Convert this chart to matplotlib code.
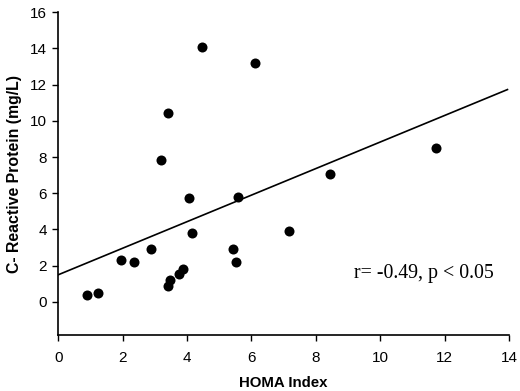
import matplotlib
matplotlib.use("Agg")
import matplotlib.pyplot as plt
import numpy as np

# %% Data

homa = [0.88, 1.23, 1.95, 2.34, 2.88, 3.40, 3.48, 3.76, 3.86, 4.06, 4.15,
        5.43, 5.51, 5.58, 4.46, 6.10, 3.40, 3.20, 7.16, 8.45, 11.72]
crp = [0.40, 0.51, 2.32, 2.22, 2.92, 0.90, 1.21, 1.53, 1.82, 5.72, 3.82,
       2.92, 2.22, 5.81, 14.09, 13.19, 10.44, 7.83, 3.93, 7.05, 8.48]

fit_x = [0.0, 13.95]
fit_intercept = 1.5
fit_slope = 0.733

xticks = [0, 2, 4, 6, 8, 10, 12, 14]
yticks = [0, 2, 4, 6, 8, 10, 12, 14, 16]

# %% Plot

plt.rcParams["font.family"] = ["Liberation Sans", "DejaVu Sans"]

fig = plt.figure(figsize=(5.2, 3.91), dpi=100)
ax = fig.add_axes([0.112, 0.1425, 0.867, 0.8265])

ax.scatter(homa, crp, s=52, color="black", zorder=3, linewidths=0)

fx = np.array(fit_x)
ax.plot(fx, fit_intercept + fit_slope * fx, color="black", lw=1.2)

ax.text(
    11.35, 1.55, "r= -0.49, p < 0.05",
    family=["Liberation Serif", "DejaVu Serif"],
    fontsize=14.3, ha="center", va="center",
)

ax.set_xlim(0, 14)
ax.set_ylim(-1.84, 16)
ax.set_xticks(xticks)
ax.set_yticks(yticks)
ax.tick_params(direction="out", length=4, width=1, labelsize=11)
ax.tick_params(axis="x", pad=7)
ax.tick_params(axis="y", pad=4)
ax.spines[["top", "right"]].set_visible(False)
ax.spines[["left", "bottom"]].set_linewidth(1.2)

ax.set_xlabel("HOMA Index", fontweight="bold", fontsize=10.8, labelpad=8)
ax.set_ylabel("C- Reactive Protein (mg/L)", fontweight="bold", fontsize=11.4,
              labelpad=6)

fig.savefig("out.png", dpi=100)
